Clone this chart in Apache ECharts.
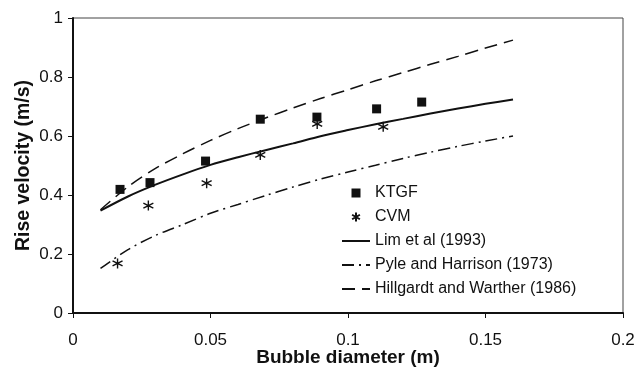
<!DOCTYPE html>
<html>
<head>
<meta charset="utf-8">
<script src="https://cdn.jsdelivr.net/npm/echarts@6/dist/echarts.min.js"></script>
<style>
html,body{margin:0;padding:0;background:#fff;}
#chart{width:637px;height:371px;}
</style>
</head>
<body>
<div id="chart"></div>
<script>
// Data
const ktgfX = [0.0171, 0.0280, 0.0482, 0.0681, 0.0887, 0.1104, 0.1268];
const ktgfY = [0.419, 0.442, 0.515, 0.657, 0.664, 0.692, 0.715];
const cvmX = [0.0162, 0.0274, 0.0486, 0.0681, 0.0888, 0.1128];
const cvmY = [0.168, 0.364, 0.440, 0.536, 0.641, 0.631];
const curveX = [0.01, 0.02, 0.03, 0.04, 0.05, 0.06, 0.07, 0.08, 0.09, 0.10, 0.11, 0.12, 0.13, 0.14, 0.15, 0.16];
const limY   = [0.347, 0.395, 0.435, 0.470, 0.502, 0.528, 0.552, 0.575, 0.599, 0.620, 0.640, 0.658, 0.676, 0.693, 0.709, 0.724];
const pyleY  = [0.151, 0.215, 0.263, 0.300, 0.338, 0.368, 0.398, 0.427, 0.454, 0.478, 0.501, 0.524, 0.545, 0.565, 0.583, 0.600];
const hillY  = [0.350, 0.428, 0.490, 0.540, 0.585, 0.625, 0.661, 0.695, 0.727, 0.757, 0.787, 0.815, 0.843, 0.870, 0.898, 0.925];
const seriesNames = ['KTGF', 'CVM', 'Lim et al (1993)', 'Pyle and Harrison (1973)', 'Hillgardt and Warther (1986)'];
const xTitle = 'Bubble diameter (m)';
const yTitle = 'Rise velocity (m/s)';

const zip = (xs, ys) => xs.map((x, i) => [x, ys[i]]);
const ink = '#111111';
const font = '"Liberation Sans", Arial, sans-serif';
const asterisk = 'path://M0,-10L0,10M-8.66,-5L8.66,5M-8.66,5L8.66,-5';
const squareIcon = 'path://M0,0L10,0L10,10L0,10Z';
const hiddenSymbol = {color: 'rgba(0,0,0,0)', borderColor: 'rgba(0,0,0,0)', borderWidth: 0, opacity: 0};

const chart = echarts.init(document.getElementById('chart'), null, {renderer: 'canvas'});
chart.setOption({
  animation: false,
  backgroundColor: '#fff',
  textStyle: {fontFamily: font, color: ink},
  grid: {left: 73, right: 14, top: 18, bottom: 58, show: true, borderColor: '#444', borderWidth: 1,
         containLabel: false, outerBoundsMode: 'none'},
  xAxis: {
    type: 'value', min: 0, max: 0.2, interval: 0.05,
    name: xTitle, nameLocation: 'middle', nameGap: 35, nameMoveOverlap: false,
    nameTextStyle: {fontFamily: font, fontWeight: 'bold', fontSize: 19, color: ink},
    axisLine: {lineStyle: {color: ink, width: 2}},
    axisTick: {show: true, inside: false, length: 5, lineStyle: {color: ink, width: 1}},
    axisLabel: {fontFamily: font, fontSize: 17, color: ink, margin: 19},
    splitLine: {show: false}
  },
  yAxis: {
    type: 'value', min: 0, max: 1, interval: 0.2,
    name: yTitle, nameLocation: 'middle', nameGap: 39, nameRotate: 90, nameMoveOverlap: false,
    nameTextStyle: {fontFamily: font, fontWeight: 'bold', fontSize: 19.5, color: ink},
    axisLine: {lineStyle: {color: ink, width: 2}},
    axisTick: {show: true, inside: false, length: 5, lineStyle: {color: ink, width: 1}},
    axisLabel: {fontFamily: font, fontSize: 17, color: ink, margin: 10},
    splitLine: {show: false}
  },
  legend: {
    orient: 'vertical', left: 336, top: 180,
    itemWidth: 28, itemHeight: 9, itemGap: 8,
    textStyle: {fontFamily: font, fontSize: 16, color: ink},
    data: [
      {name: seriesNames[0], icon: squareIcon},
      {name: seriesNames[1]},
      {name: seriesNames[2], itemStyle: hiddenSymbol},
      {name: seriesNames[3], itemStyle: hiddenSymbol},
      {name: seriesNames[4], itemStyle: hiddenSymbol}
    ]
  },
  series: [
    {name: seriesNames[2], type: 'line', data: zip(curveX, limY), smooth: 0.3, symbol: 'none',
     lineStyle: {color: ink, width: 2}, itemStyle: {color: ink}, z: 3},
    {name: seriesNames[3], type: 'line', data: zip(curveX, pyleY), smooth: 0.3, symbol: 'none',
     lineStyle: {color: ink, width: 1.5, type: [12, 5, 2, 5]}, itemStyle: {color: ink}, z: 3},
    {name: seriesNames[4], type: 'line', data: zip(curveX, hillY), smooth: 0.3, symbol: 'none',
     lineStyle: {color: ink, width: 1.5, type: [13, 7]}, itemStyle: {color: ink}, z: 3},
    {name: seriesNames[0], type: 'scatter', data: zip(ktgfX, ktgfY), symbol: 'rect', symbolSize: 9,
     itemStyle: {color: ink, opacity: 1}, z: 5},
    {name: seriesNames[1], type: 'scatter', data: zip(cvmX, cvmY), symbol: asterisk, symbolSize: 10,
     itemStyle: {color: 'rgba(0,0,0,0)', borderColor: ink, borderWidth: 1.4, opacity: 1}, z: 5}
  ]
});
</script>
</body>
</html>
